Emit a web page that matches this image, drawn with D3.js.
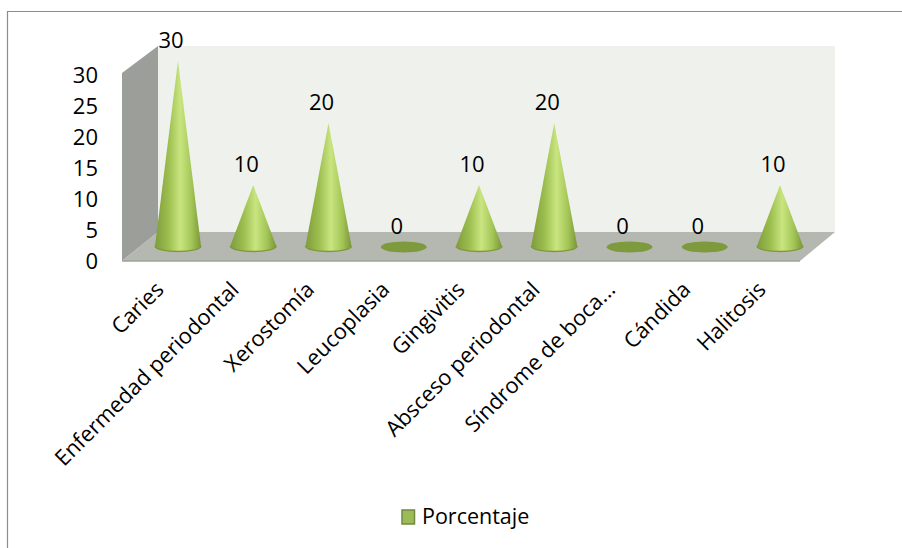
<!DOCTYPE html>
<html>
<head>
<meta charset="utf-8">
<script src="https://cdn.jsdelivr.net/npm/d3@7"></script>
<style>
  html, body { margin: 0; padding: 0; background: #fff; }
  svg { display: block; }
  text { font-family: "Open Sans", "Noto Sans", sans-serif; fill: #000; }
</style>
</head>
<body>
<svg id="chart" width="902" height="548"></svg>
<script>
const categorias = ["Caries", "Enfermedad periodontal", "Xerostomía", "Leucoplasia", "Gingivitis", "Absceso periodontal", "Síndrome de boca...", "Cándida", "Halitosis"];
const porcentaje = [30, 10, 20, 0, 10, 20, 0, 0, 10];
const ticksY = [0, 5, 10, 15, 20, 25, 30];
const nombreSerie = "Porcentaje";

const svg = d3.select("#chart");
const defs = svg.append("defs");

// degradado del cono, oscuro en los bordes y claro al centro
const grad = defs.append("linearGradient").attr("id", "cono");
grad.selectAll("stop")
  .data([[0, "#7f9c3c"], [0.3, "#9dbf50"], [0.55, "#c9e580"], [0.8, "#a3c556"], [1, "#7a963a"]])
  .enter().append("stop")
  .attr("offset", (d) => d[0])
  .attr("stop-color", (d) => d[1]);

const blur = defs.append("filter").attr("id", "suave");
blur.append("feGaussianBlur").attr("stdDeviation", 0.5);

// marco del grafico
svg.append("path")
  .attr("d", "M7.5,548V11.5H902")
  .attr("fill", "none")
  .attr("stroke", "#8c8c8c")
  .attr("stroke-width", 1.2);

const x = d3.scalePoint().domain(categorias).range([178, 780]);
const yCono = d3.scaleLinear().domain([0, 30]).range([247, 61]);
const yEje = d3.scaleLinear().domain([0, 30]).range([261, 75]);

// paredes y piso
const escena = svg.append("g");
escena.append("polygon").attr("points", "158,46 835,46 835,232 158,232").attr("fill", "#eff2ec");
escena.append("polygon").attr("points", "122,73 158,46 158,232 122,261").attr("fill", "#9c9e9a");
escena.append("polygon").attr("points", "158,232 835,232 800,261 122,261").attr("fill", "#b5b7b1");
escena.append("path").attr("d", "M122,261H800").attr("stroke", "#a0a29c").attr("stroke-width", 1.5);

// eje y
const ejeY = svg.append("g")
  .attr("transform", "translate(104,0)")
  .call(d3.axisLeft(yEje).tickValues(ticksY).tickSize(0).tickPadding(6));
ejeY.select(".domain").remove();
ejeY.selectAll("text").style("font-size", "22px").style("font-family", "'Open Sans', sans-serif").attr("fill", "#000");

// conos
const conos = svg.append("g").attr("filter", "url(#suave)")
  .selectAll("g")
  .data(categorias.map((c, i) => ({ c, v: porcentaje[i] })))
  .enter().append("g");

conos.filter((d) => d.v === 0).append("ellipse")
  .attr("cx", (d) => x(d.c))
  .attr("cy", yCono(0))
  .attr("rx", 23)
  .attr("ry", 5.5)
  .attr("fill", "#7d9a3c");

const radio = 23, ry = 5.5;
conos.filter((d) => d.v > 0).append("path")
  .attr("d", (d) => {
    const cx = x(d.c), base = yCono(0);
    return `M${cx},${yCono(d.v)}L${cx + radio},${base - 1}A${radio},${ry} 0 0 1 ${cx - radio},${base - 1}Z`;
  })
  .attr("fill", "url(#cono)");

// borde inferior oscuro de la base
conos.filter((d) => d.v > 0).append("path")
  .attr("d", (d) => {
    const cx = x(d.c), base = yCono(0);
    return `M${cx + radio},${base - 1}A${radio},${ry} 0 0 1 ${cx - radio},${base - 1}`;
  })
  .attr("fill", "none")
  .attr("stroke", "#7d9a3c")
  .attr("stroke-width", 1.5);

// etiquetas de valor
svg.append("g").selectAll("text")
  .data(categorias.map((c, i) => ({ c, v: porcentaje[i] })))
  .enter().append("text")
  .attr("x", (d) => x(d.c) - 7)
  .attr("y", (d) => yCono(d.v) - 13)
  .attr("text-anchor", "middle")
  .style("font-size", "22px")
  .text((d) => d.v);

// etiquetas de categoria
svg.append("g").selectAll("text")
  .data(categorias)
  .enter().append("text")
  .attr("transform", (d) => `translate(${x(d) - 13},${291}) rotate(-45)`)
  .attr("text-anchor", "end")
  .style("font-size", "21.8px")
  .text((d) => d);

// leyenda
const leyenda = svg.append("g");
leyenda.append("rect")
  .attr("x", 402).attr("y", 510).attr("width", 12.5).attr("height", 14)
  .attr("fill", "#9bbb59").attr("stroke", "#71893f").attr("stroke-width", 1.5);
leyenda.append("text")
  .attr("x", 422).attr("y", 524)
  .style("font-size", "21.5px")
  .text(nombreSerie);
</script>
</body>
</html>
